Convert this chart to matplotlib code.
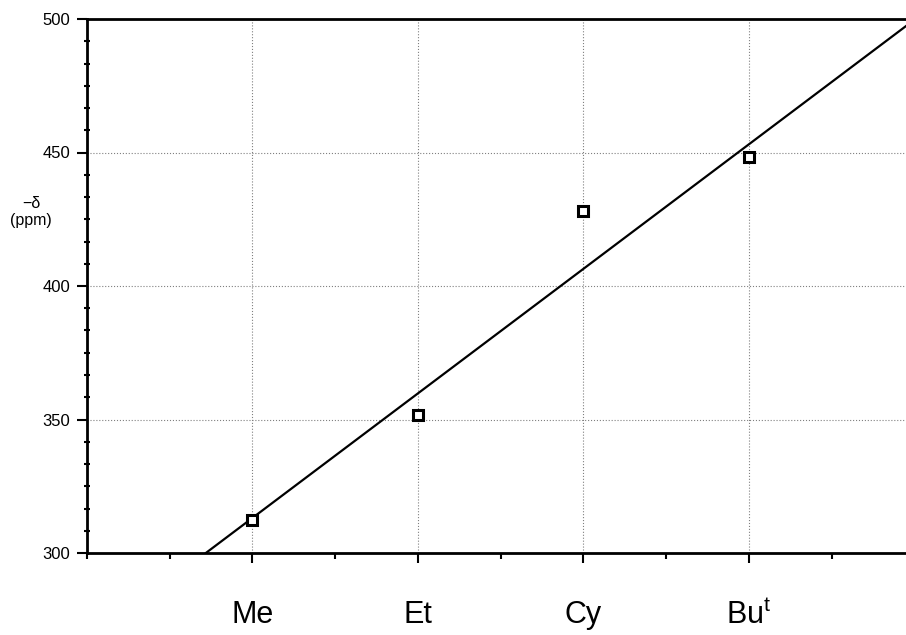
import matplotlib.pyplot as plt
from matplotlib.ticker import MultipleLocator

groups = ["Me", "Et", "Cy", "Bu$^{\\mathregular{t}}$"]
x_pos = [1, 2, 3, 4]
shift = [312.5, 351.5, 428.0, 448.5]

# straight line as drawn on the chart
fit_slope = 46.65
fit_intercept = 266.5

fig = plt.figure(figsize=(9.06, 6.35), dpi=100)
ax = fig.add_axes([87/906, 82/635, 819/906, 534/635])

ax.axline((0, fit_intercept), slope=fit_slope, color="black", lw=1.6, zorder=3)
ax.plot(x_pos, shift, linestyle="none", marker="s", markersize=6.5,
        mfc="white", mec="black", mew=2.2, zorder=4)

ax.set_xlim(0, 819/165.5)
ax.set_ylim(300, 500)

ax.set_xticks(x_pos)
ax.set_xticklabels(groups, fontsize=22, fontfamily="Liberation Sans")
ax.xaxis.set_minor_locator(MultipleLocator(0.5))
ax.tick_params(axis="x", which="major", direction="out", length=7, width=1.5, pad=27)
ax.tick_params(axis="x", which="minor", direction="out", length=4, width=1.5)

ax.set_yticks([300, 350, 400, 450, 500])
ax.yaxis.set_minor_locator(MultipleLocator(50/6))
ax.tick_params(axis="y", which="major", direction="out", length=7, width=1.5,
               labelsize=12, pad=5)
ax.tick_params(axis="y", which="minor", direction="inout", length=5, width=1.5)
for lab in ax.get_yticklabels():
    lab.set_fontfamily("Liberation Sans")

ax.grid(True, which="major", linestyle=":", color="gray", lw=0.8)

for s in ["left", "top", "bottom"]:
    ax.spines[s].set_linewidth(2)
ax.spines["right"].set_visible(False)

fig.text(31/906, 1 - 212/635, "\u2212\u03b4\n(ppm)", ha="center", va="center",
         fontsize=11.5, fontfamily="Liberation Sans", linespacing=1.15)

fig.savefig("out.png", dpi=100)
